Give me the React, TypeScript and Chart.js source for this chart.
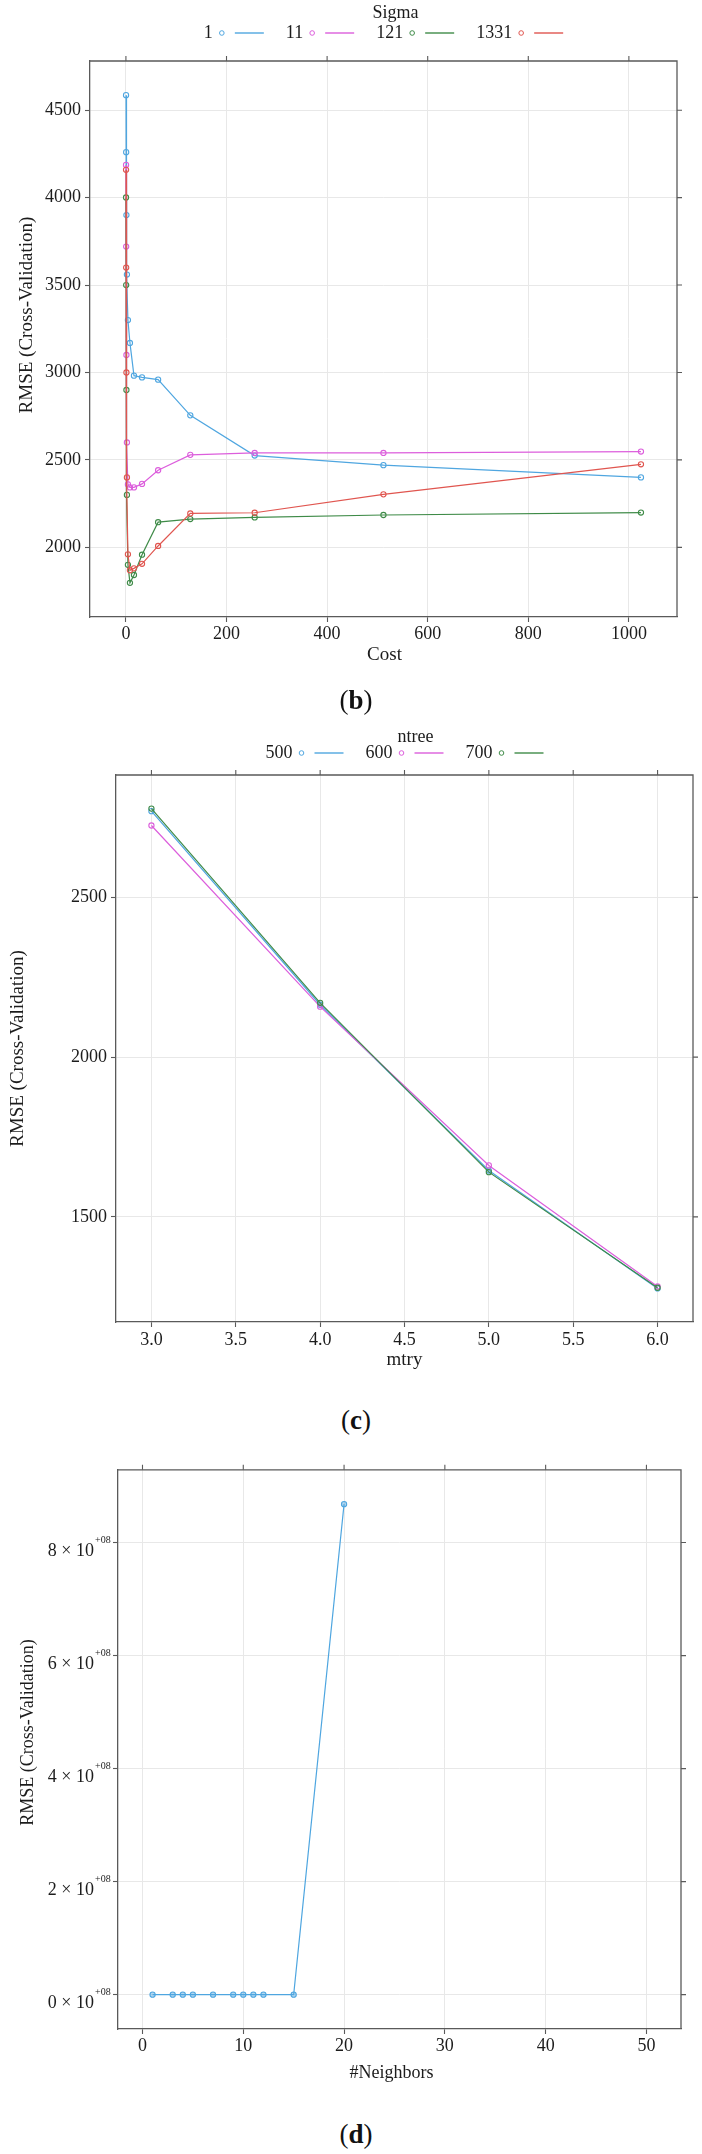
import React, { useEffect, useRef } from "react";
import { Chart, registerables } from "chart.js";

Chart.register(...registerables);

const FONT = "'Liberation Serif', 'Times New Roman', serif";
const TEXT = "#1c1c1c";
const BOX = "#5a5a5a";
const GRID = "#e8e8e8";

// ---------- Panel (b): SVM radial, RMSE vs Cost by Sigma ----------
const costValues = [0.25, 0.5, 1, 2, 4, 8, 16, 32, 64, 128, 256, 512, 1024];
const sigmaLabels = ["1", "11", "121", "1331"];
const rmseSigma1 = [4586, 4260, 3900, 3560, 3300, 3169, 2982, 2972, 2959, 2755, 2525, 2470, 2400];
const rmseSigma11 = [4187, 3720, 3100, 2600, 2360, 2343, 2343, 2363, 2441, 2529, 2540, 2540, 2548];
const rmseSigma121 = [4001, 3500, 2900, 2300, 1900, 1797, 1842, 1958, 2144, 2162, 2171, 2185, 2199];
const rmseSigma1331 = [4159, 3600, 3000, 2400, 1960, 1869, 1880, 1906, 2008, 2194, 2198, 2303, 2475];
const costTicks = [0, 200, 400, 600, 800, 1000];
const rmseTicksB = [2000, 2500, 3000, 3500, 4000, 4500];

// ---------- Panel (c): random forest, RMSE vs mtry by ntree ----------
const mtryValues = [3, 4, 5, 6];
const ntreeLabels = ["500", "600", "700"];
const rmseNtree500 = [2770, 2164, 1645, 1276];
const rmseNtree600 = [2725, 2158, 1661, 1282];
const rmseNtree700 = [2778, 2170, 1640, 1278];
const mtryTicks = [3.0, 3.5, 4.0, 4.5, 5.0, 5.5, 6.0];
const rmseTicksC = [1500, 2000, 2500];

// ---------- Panel (d): kNN, RMSE vs #Neighbors ----------
const neighbors = [1, 3, 4, 5, 7, 9, 10, 11, 12, 15, 20];
const rmseKnn = [2100, 2080, 2070, 2065, 2060, 2062, 2066, 2070, 2075, 2090, 868000000];
const neighborGridExtent = [1, 50];
const neighborTicks = [0, 10, 20, 30, 40, 50];
const rmseTicksD = [0, 200000000, 400000000, 600000000, 800000000];

const COLORS4 = ["#4fa6e0", "#dc5edc", "#3f8b48", "#e0554f"];
const COLORS3 = ["#4fa6e0", "#dc5edc", "#3f8b48"];

// lattice-style 7% axis padding
function padded(values: number[]) {
  const lo = Math.min(...values);
  const hi = Math.max(...values);
  const d = (hi - lo) * 0.07;
  return { min: lo - d, max: hi + d };
}

function series(xs: number[], ys: number[]) {
  return xs.map((x, i) => ({ x, y: ys[i] }));
}

function lineDataset(label: string, xs: number[], ys: number[], color: string, order: number, fill?: string) {
  return {
    label,
    data: series(xs, ys),
    borderColor: color,
    backgroundColor: color,
    borderWidth: 1.2,
    pointRadius: 2.6,
    pointBorderWidth: 1.1,
    pointBorderColor: color,
    pointBackgroundColor: fill || "rgba(255,255,255,0)",
    tension: 0,
    order,
  };
}

const framePlugin = {
  id: "frame",
  afterDraw(chart: any) {
    const { ctx, chartArea } = chart;
    const { left, right, top, bottom } = chartArea;
    ctx.save();
    ctx.strokeStyle = BOX;
    ctx.lineWidth = 1.3;
    ctx.beginPath();
    ctx.moveTo(left, top);
    ctx.lineTo(right, top);
    ctx.lineTo(right, bottom);
    ctx.stroke();
    ctx.lineWidth = 1.1;
    ctx.beginPath();
    for (const t of chart.scales.x.ticks) {
      const px = chart.scales.x.getPixelForValue(t.value);
      ctx.moveTo(px, top);
      ctx.lineTo(px, top - 5);
    }
    for (const t of chart.scales.y.ticks) {
      const py = chart.scales.y.getPixelForValue(t.value);
      ctx.moveTo(right, py);
      ctx.lineTo(right + 5, py);
    }
    ctx.stroke();
    ctx.restore();
  },
};

const axisTitlePlugin = {
  id: "axisTitles",
  afterDraw(chart: any, _a: any, opts: any) {
    if (!opts || !opts.x) return;
    const { ctx, chartArea } = chart;
    const cx = (chartArea.left + chartArea.right) / 2;
    const cy = (chartArea.top + chartArea.bottom) / 2;
    ctx.save();
    ctx.fillStyle = TEXT;
    ctx.textAlign = "center";
    ctx.textBaseline = "middle";
    ctx.font = `${opts.size}px ${FONT}`;
    ctx.fillText(opts.x, cx + (opts.xdx || 0), chartArea.bottom + opts.xdy);
    ctx.translate(opts.yx, cy + (opts.ydy || 0));
    ctx.rotate(-Math.PI / 2);
    ctx.fillText(opts.y, 0, 0);
    ctx.restore();
  },
};

const keyPlugin = {
  id: "keyLegend",
  afterDraw(chart: any, _a: any, opts: any) {
    if (!opts || !opts.labels) return;
    const { ctx, chartArea } = chart;
    const center = (chartArea.left + chartArea.right) / 2;
    ctx.save();
    ctx.font = `${opts.size}px ${FONT}`;
    ctx.fillStyle = TEXT;
    ctx.textBaseline = "middle";
    const widths = opts.labels.map((l: string) => ctx.measureText(l).width);
    const toPoint = 9, toLine = 13, lineLen = 29, gap = 22;
    const total =
      widths.reduce((a: number, b: number) => a + b, 0) +
      opts.labels.length * (toPoint + toLine + lineLen) +
      gap * (opts.labels.length - 1);
    let x = center - total / 2;
    ctx.textAlign = "center";
    ctx.fillText(opts.title, center + opts.titleDx, opts.titleY);
    ctx.textAlign = "left";
    opts.labels.forEach((lab: string, i: number) => {
      ctx.fillStyle = TEXT;
      ctx.fillText(lab, x, opts.rowY);
      const px = x + widths[i] + toPoint;
      ctx.strokeStyle = opts.colors[i];
      ctx.lineWidth = 1;
      ctx.beginPath();
      ctx.arc(px, opts.rowY, 2.3, 0, Math.PI * 2);
      ctx.stroke();
      ctx.lineWidth = 1.4;
      ctx.beginPath();
      ctx.moveTo(px + toLine, opts.rowY);
      ctx.lineTo(px + toLine + lineLen, opts.rowY);
      ctx.stroke();
      x = px + toLine + lineLen + gap;
    });
    ctx.restore();
  },
};

const superscriptPlugin = {
  id: "expSuper",
  afterDraw(chart: any, _a: any, opts: any) {
    if (!opts || !opts.text) return;
    const { ctx } = chart;
    const ys = chart.scales.y;
    ctx.save();
    ctx.fillStyle = TEXT;
    ctx.font = `${opts.size}px ${FONT}`;
    ctx.textAlign = "left";
    ctx.textBaseline = "middle";
    for (const t of ys.ticks) {
      const py = ys.getPixelForValue(t.value);
      ctx.fillText(opts.text, opts.x, py - 2);
    }
    ctx.restore();
  },
};

function baseScales(p: any) {
  const tickFont = { family: FONT, size: 18 };
  return {
    x: {
      type: "linear",
      min: p.xr.min,
      max: p.xr.max,
      afterBuildTicks: (s: any) => {
        s.ticks = p.xTicks.map((v: number) => ({ value: v }));
      },
      afterFit: (s: any) => {
        s.height = p.xHeight;
      },
      grid: { color: GRID, lineWidth: 1, tickLength: 5, tickColor: BOX, tickWidth: 1.1 },
      border: { color: BOX, width: 1.3 },
      ticks: {
        font: tickFont,
        color: TEXT,
        padding: p.xPad,
        maxRotation: 0,
        autoSkip: false,
        callback: p.xFmt,
      },
    },
    y: {
      type: "linear",
      min: p.yr.min,
      max: p.yr.max,
      afterBuildTicks: (s: any) => {
        s.ticks = p.yTicks.map((v: number) => ({ value: v }));
      },
      afterFit: (s: any) => {
        s.width = p.yWidth;
      },
      grid: { color: GRID, lineWidth: 1, tickLength: 5, tickColor: BOX, tickWidth: 1.1 },
      border: { color: BOX, width: 1.3 },
      ticks: {
        font: tickFont,
        color: TEXT,
        padding: p.yPad,
        autoSkip: false,
        labelOffset: p.yLabelOffset || 0,
        callback: p.yFmt,
      },
    },
  };
}

function makeConfig(p: any) {
  return {
    type: "line",
    data: { datasets: p.datasets },
    options: {
      animation: false,
      responsive: false,
      devicePixelRatio: 1,
      events: [],
      layout: { padding: { top: p.padTop, right: p.padRight, left: 0, bottom: 0 } },
      plugins: {
        legend: { display: false },
        tooltip: { enabled: false },
        axisTitles: p.titles,
        keyLegend: p.key || {},
        expSuper: p.sup || {},
      },
      scales: baseScales(p),
    },
    plugins: [framePlugin, axisTitlePlugin, keyPlugin, superscriptPlugin],
  };
}

const configB = () =>
  makeConfig({
    datasets: [
      lineDataset(sigmaLabels[0], costValues, rmseSigma1, COLORS4[0], 3),
      lineDataset(sigmaLabels[1], costValues, rmseSigma11, COLORS4[1], 2),
      lineDataset(sigmaLabels[2], costValues, rmseSigma121, COLORS4[2], 1),
      lineDataset(sigmaLabels[3], costValues, rmseSigma1331, COLORS4[3], 0),
    ],
    xr: padded(costValues),
    yr: padded([...rmseSigma1, ...rmseSigma11, ...rmseSigma121, ...rmseSigma1331]),
    xTicks: costTicks,
    yTicks: rmseTicksB,
    xFmt: (v: number) => String(v),
    yFmt: (v: number) => String(v),
    padTop: 61,
    padRight: 25,
    xHeight: 73,
    yWidth: 90,
    xPad: 1,
    yPad: 4,
    titles: { x: "Cost", y: "RMSE (Cross-Validation)", size: 19, xdy: 38, xdx: 1, yx: 27, ydy: -24 },
    key: { title: "Sigma", labels: sigmaLabels, colors: COLORS4, size: 18, titleY: 13, rowY: 33, titleDx: 12 },
  });

const configC = () =>
  makeConfig({
    datasets: [
      lineDataset(ntreeLabels[0], mtryValues, rmseNtree500, COLORS3[0], 2),
      lineDataset(ntreeLabels[1], mtryValues, rmseNtree600, COLORS3[1], 1),
      lineDataset(ntreeLabels[2], mtryValues, rmseNtree700, COLORS3[2], 0),
    ],
    xr: padded(mtryValues),
    yr: padded([...rmseNtree500, ...rmseNtree600, ...rmseNtree700]),
    xTicks: mtryTicks,
    yTicks: rmseTicksC,
    xFmt: (v: number) => v.toFixed(1),
    yFmt: (v: number) => String(v),
    padTop: 63,
    padRight: 9,
    xHeight: 73,
    yWidth: 116,
    xPad: 2,
    yPad: 4,
    titles: { x: "mtry", y: "RMSE (Cross-Validation)", size: 19, xdy: 38, xdx: 0, yx: 18, ydy: 0 },
    key: { title: "ntree", labels: ntreeLabels, colors: COLORS3, size: 18, titleY: 25, rowY: 41, titleDx: 11 },
  });

const configD = () =>
  makeConfig({
    datasets: [lineDataset("kNN", neighbors, rmseKnn, COLORS4[0], 0, "rgba(79,166,224,0.45)")],
    xr: padded(neighborGridExtent),
    yr: padded(rmseKnn),
    xTicks: neighborTicks,
    yTicks: rmseTicksD,
    xFmt: (v: number) => String(v),
    yFmt: (v: number) => `${Math.round(v / 100000000)} \u00d7 10`,
    padTop: 23,
    padRight: 21,
    xHeight: 81,
    yWidth: 118,
    xPad: 1,
    yPad: 19,
    yLabelOffset: 9,
    titles: { x: "#Neighbors", y: "RMSE (Cross-Validation)", size: 18, xdy: 44, xdx: -8, yx: 28, ydy: -17 },
    sup: { text: "+08", size: 10, x: 95 },
  });

function ChartCanvas({ top, height, make }: { top: number; height: number; make: () => any }) {
  const ref = useRef<HTMLCanvasElement | null>(null);
  useEffect(() => {
    if (!ref.current) return;
    const chart = new Chart(ref.current, make() as any);
    return () => chart.destroy();
  }, []);
  return (
    <canvas
      ref={ref}
      width={702}
      height={height}
      style={{ position: "absolute", left: 0, top, width: 702, height, display: "block" }}
    />
  );
}

function Caption({ letter, y }: { letter: string; y: number }) {
  return (
    <div
      style={{
        position: "absolute",
        left: 356,
        top: y,
        transform: "translate(-50%, -50%)",
        fontFamily: FONT,
        fontSize: 27,
        color: "#111",
        lineHeight: 1,
        whiteSpace: "nowrap",
      }}
    >
      (<b>{letter}</b>)
    </div>
  );
}

export default function App() {
  return (
    <div
      style={{
        position: "absolute",
        left: 0,
        top: 0,
        width: 702,
        height: 2154,
        background: "#ffffff",
        overflow: "hidden",
      }}
    >
      <ChartCanvas top={0} height={690} make={configB} />
      <Caption letter="b" y={700} />
      <ChartCanvas top={712} height={683} make={configC} />
      <Caption letter="c" y={1420} />
      <ChartCanvas top={1440} height={670} make={configD} />
      <Caption letter="d" y={2134} />
    </div>
  );
}
